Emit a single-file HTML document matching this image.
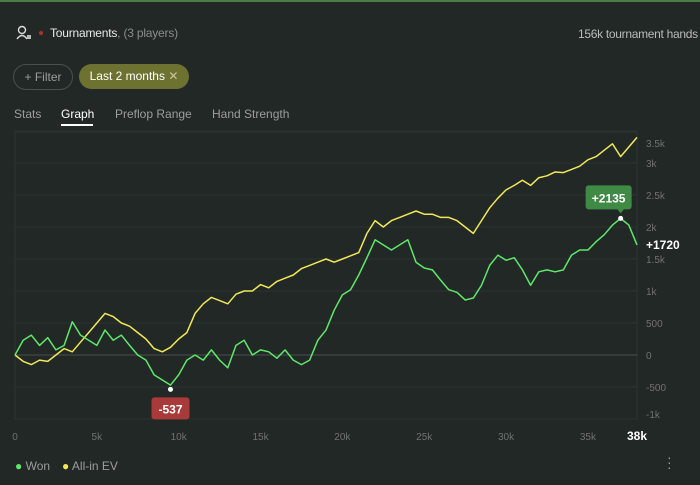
<!DOCTYPE html>
<html><head><meta charset="utf-8"><style>
body{margin:0;width:700px;height:485px;background:#222826;font-family:"Liberation Sans",sans-serif;overflow:hidden;position:relative;color:#e8e8e8}
.top{position:absolute;left:0;top:0;width:700px;height:2px;background:#4a7d45}
.abs{position:absolute;white-space:nowrap}
.chip{position:absolute;border-radius:13px;height:24px;line-height:24px;font-size:12px}
.tab{position:absolute;top:107px;font-size:12px;color:#9a9e9c}
</style></head><body>
<div class="top"></div>
<svg class="abs" style="left:16px;top:25px" width="16" height="16"><circle cx="6" cy="5" r="3.5" fill="none" stroke="#ddd" stroke-width="1.4"/><path d="M1 14 Q6 7 11 14" fill="none" stroke="#ddd" stroke-width="1.4"/><rect x="11" y="10" width="4" height="4" fill="#bbb"/></svg>
<div class="abs" style="left:39px;top:31px;width:4px;height:4px;border-radius:2px;background:#b03030"></div>
<div class="abs" style="left:50px;top:26px;font-size:12px;letter-spacing:-0.2px">Tournaments<span style="color:#8a8e8c">, (3 players)</span></div>
<div class="abs" style="left:578px;top:27px;font-size:12px;color:#b8bcba;letter-spacing:-0.3px">156k tournament hands</div>
<div class="chip" style="left:13px;top:64px;width:58px;border:1px solid #4a504d;color:#9a9e9c;text-align:center">+ Filter</div>
<div class="chip" style="left:79px;top:64px;width:110px;background:#6d7230;color:#fff;text-align:center;height:25px;line-height:25px">Last 2 months <span style="color:#c8c8a0">✕</span></div>
<div class="tab" style="left:14px">Stats</div>
<div class="tab" style="left:61px;color:#fff">Graph</div>
<div class="abs" style="left:61px;top:124px;width:32px;height:2px;background:#fff"></div>
<div class="tab" style="left:115px">Preflop Range</div>
<div class="tab" style="left:212px">Hand Strength</div>
<svg id="chart" class="abs" style="left:0;top:0" width="700" height="485"></svg>
<div class="abs" style="left:15px;top:459px;font-size:12px;color:#9a9e9c"><span style="color:#5ee86a">●</span> Won</div>
<div class="abs" style="left:62px;top:459px;font-size:12px;color:#9a9e9c"><span style="color:#f0e85a">●</span> All-in EV</div>
<div class="abs" style="left:667px;top:455px;font-size:14px;color:#9a9e9c;line-height:5px">·<br>·<br>·</div>
<script>
const hands=[0,0.5,1,1.5,2,2.5,3,3.5,4,4.5,5,5.5,6,6.5,7,7.5,8,8.5,9,9.5,10,10.5,11,11.5,12,12.5,13,13.5,14,14.5,15,15.5,16,16.5,17,17.5,18,18.5,19,19.5,20,20.5,21,21.5,22,22.5,23,23.5,24,24.5,25,25.5,26,26.5,27,27.5,28,28.5,29,29.5,30,30.5,31,31.5,32,32.5,33,33.5,34,34.5,35,35.5,36,36.5,37,37.5,38];
const won=[0,230,310,150,270,80,150,520,310,230,150,390,230,310,150,0,-80,-310,-390,-470,-310,-80,0,-80,80,-80,-200,150,230,0,80,50,-50,80,-80,-150,-80,230,390,700,940,1020,1250,1520,1800,1720,1640,1720,1800,1450,1360,1330,1170,1020,980,860,890,1090,1400,1560,1480,1520,1330,1090,1300,1330,1300,1330,1560,1640,1640,1770,1880,2030,2135,2030,1720];
const ev=[0,-100,-150,-80,-100,0,100,50,200,350,500,650,600,500,450,350,250,100,50,120,250,350,650,800,900,850,800,950,1000,1000,1100,1050,1150,1200,1250,1350,1400,1450,1500,1450,1500,1550,1600,1900,2100,2000,2100,2150,2200,2250,2200,2200,2150,2150,2100,2000,1900,2100,2300,2450,2580,2650,2730,2650,2770,2800,2860,2850,2900,2950,3050,3100,3200,3300,3100,3250,3400];
const yTicks=[-1000,-500,0,500,1000,1500,2000,2500,3000,3500];
const yLabels=["-1k","-500","0","500","1k","1.5k","2k","2.5k","3k","3.5k"];
const xTicks=[0,5,10,15,20,25,30,35];
const xLabels=["0","5k","10k","15k","20k","25k","30k","35k"];
const minIdx=19, minVal=-537, maxIdx=74, maxVal=2135, lastVal=1720;
const X=v=>15+v/38*622, Y=v=>355-v*0.064;
const svg=document.getElementById('chart'),NS='http://www.w3.org/2000/svg';
function mk(t,a,p){const e=document.createElementNS(NS,t);for(const k in a)e.setAttribute(k,a[k]);(p||svg).appendChild(e);return e;}
mk('rect',{x:15,y:132,width:622,height:287,fill:'none',stroke:'#2e3431'});
yTicks.forEach((v,i)=>{
 const g=mk('line',{x1:15,x2:637,y1:Y(v),y2:Y(v),stroke:v===0?'#4a504d':'#2c322f'});
 
 const t=mk('text',{x:646,y:Math.min(Math.max(Y(v)+4,147),418),fill:'#6e7370','font-size':10});
 t.textContent=yLabels[i];
});
xTicks.forEach((v,i)=>{
 const t=mk('text',{x:X(v),y:440,fill:'#6e7370','font-size':10,'text-anchor':'middle'});
 t.textContent=xLabels[i];
});
const xe=mk('text',{x:X(38),y:440,fill:'#fff','font-size':12,'font-weight':'bold','text-anchor':'middle'});xe.textContent='38k';

function line(d,c,n){const p=mk('polyline',{points:d.map((v,i)=>X(hands[i])+','+Y(v)).join(' '),fill:'none',stroke:c,'stroke-width':1.5,'stroke-linejoin':'round'});
 }
line(ev,'#f0e85a','allin-ev-line');line(won,'#5ee86a','won-line');
const mx=X(hands[minIdx]),my=Y(minVal);
mk('circle',{cx:mx,cy:my,r:2.5,fill:'#fff'});
const mb=mk('g',{});
mk('rect',{x:mx-19,y:my+8,width:38,height:22,rx:3,fill:'#a83a3a'},mb);
mk('text',{x:mx,y:my+24,fill:'#fff','font-size':12,'font-weight':'bold','text-anchor':'middle'},mb).textContent=minVal;
const ax=X(hands[maxIdx]),ay=Y(maxVal);
mk('circle',{cx:ax,cy:ay,r:2.5,fill:'#fff'});
const xb=mk('g',{});
mk('rect',{x:ax-35,y:ay-33,width:46,height:24,rx:3,fill:'#3f8a44'},xb);
mk('path',{d:`M${ax-4} ${ay-10} L${ax} ${ay-5} L${ax+4} ${ay-10}Z`,fill:'#3f8a44'},xb);
mk('text',{x:ax-12,y:ay-16,fill:'#fff','font-size':12,'font-weight':'bold','text-anchor':'middle'},xb).textContent='+'+maxVal;
const lv=mk('text',{x:646,y:Y(lastVal)+4,fill:'#fff','font-size':12,'font-weight':'bold'});lv.textContent='+'+lastVal;

</script>
</body></html>
